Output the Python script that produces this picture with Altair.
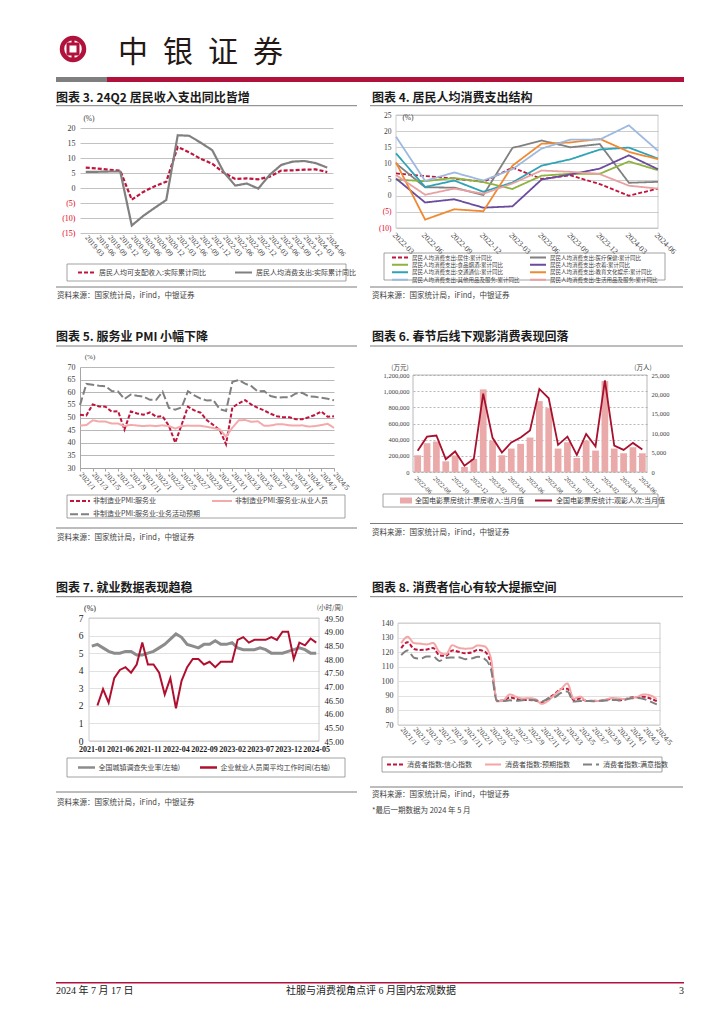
import altair as alt
import pandas as pd

NUM = "Liberation Serif, Noto Sans CJK SC"
CJK = "Noto Sans CJK SC"
INK = "#404040"
DARK = "#1A1A1A"
BRAND_RED = "#B0123B"
BRAND_GRAY = "#7F7F7F"
NEG_RED = "#E3001B"
RED = "#C0143C"
GRAY = "#808080"

# ---------------- Chart 3 data ----------------
q3 = ["2019-03", "2019-06", "2019-09", "2019-12", "2020-03", "2020-06", "2020-09", "2020-12",
      "2021-03", "2021-06", "2021-09", "2021-12", "2022-03", "2022-06", "2022-09", "2022-12",
      "2023-03", "2023-06", "2023-09", "2023-12", "2024-03", "2024-06"]
income3 = [6.8, 6.5, 6.1, 5.8, -3.9, -1.3, 0.6, 2.1, 13.7, 11.9, 9.7, 8.1, 5.1, 3.0, 3.2, 2.9,
           3.8, 5.8, 5.9, 6.1, 6.2, 5.3]
spend3 = [5.4, 5.4, 5.5, 5.5, -12.5, -9.3, -6.6, -4.0, 17.6, 17.4, 15.1, 12.6, 5.3, 0.8, 1.5, -0.2,
          4.4, 7.7, 8.8, 9.0, 8.3, 6.8]
series3 = ["居民人均可支配收入:实际累计同比", "居民人均消费支出:实际累计同比"]

# ---------------- Chart 4 data ----------------
q4 = ["2022-03", "2022-06", "2022-09", "2022-12", "2023-03", "2023-06", "2023-09", "2023-12",
      "2024-03", "2024-06"]
series4 = ["居民人均消费支出:居住:累计同比", "居民人均消费支出:医疗保健:累计同比",
           "居民人均消费支出:食品烟酒:累计同比", "居民人均消费支出:衣着:累计同比",
           "居民人均消费支出:交通通信:累计同比", "居民人均消费支出:教育文化娱乐:累计同比",
           "居民人均消费支出:其他用品及服务:累计同比", "居民人均消费支出:生活用品及服务:累计同比"]
housing4 = [6.9, 6.1, 5.3, 4.3, 8.7, 5.2, 6.3, 3.6, 0.0, 2.2]
medical4 = [10.0, 2.6, 2.5, 0.2, 14.8, 17.1, 15.0, 16.0, 4.0, 4.3]
food4 = [5.0, 4.5, 5.5, 4.2, 2.1, 6.2, 6.8, 6.8, 10.6, 7.9]
clothing4 = [5.3, -2.1, -1.1, -3.7, -3.3, 5.0, 6.6, 8.4, 12.5, 8.2]
transport4 = [13.1, 2.7, 4.7, 1.2, 4.1, 9.3, 11.3, 14.3, 14.9, 11.5]
education4 = [10.3, -7.4, -4.2, -4.8, 9.3, 16.1, 16.5, 17.6, 13.6, 11.3]
other4 = [18.3, 4.6, 7.2, 4.7, 8.2, 14.6, 17.4, 17.4, 21.8, 13.9]
household4 = [6.4, 0.3, 2.2, 0.6, 3.8, 7.8, 7.4, 6.7, 3.1, 2.2]
colors4 = [RED, GRAY, "#8DB43E", "#6B4B9E", "#2FA3B6", "#F08A32", "#9DB9E0", "#E8A0A0"]

# ---------------- Chart 5 data ----------------
m5 = [f"{y}/{m}" for y in (2021, 2022, 2023, 2024) for m in range(1, 13)][:41]
service5 = [51.1, 50.8, 55.2, 54.4, 54.3, 52.3, 52.5, 45.2, 52.4, 51.6, 51.1, 52.0,
            50.3, 50.5, 46.7, 40.0, 47.1, 54.3, 52.8, 51.9, 48.9, 47.0, 45.1, 39.4,
            54.0, 55.6, 56.9, 55.1, 53.8, 52.8, 51.5, 50.5, 50.1, 50.1, 49.3, 49.3,
            50.1, 51.0, 52.4, 50.3, 50.5]
employ5 = [46.8, 47.0, 48.9, 48.4, 48.4, 47.6, 47.6, 46.6, 47.1, 46.8, 46.6, 46.8,
           46.6, 46.9, 46.6, 45.6, 46.6, 46.8, 46.7, 46.7, 46.3, 45.8, 45.3, 42.4,
           46.0, 48.9, 49.0, 48.3, 48.5, 46.7, 46.8, 47.3, 47.3, 46.9, 46.8, 46.9,
           46.4, 46.6, 47.0, 47.5, 45.9]
expect5 = [54.9, 63.3, 63.0, 62.6, 62.4, 60.5, 60.3, 57.3, 59.1, 58.6, 58.3, 57.0,
           57.0, 60.2, 53.8, 53.1, 54.0, 60.4, 58.8, 57.5, 56.7, 56.9, 53.3, 52.6,
           64.1, 64.8, 63.4, 62.4, 60.3, 60.5, 58.5, 57.9, 58.0, 58.0, 59.5, 59.8,
           58.4, 58.2, 57.8, 57.4, 56.8]
series5 = ["非制造业PMI:服务业", "非制造业PMI:服务业:从业人员", "非制造业PMI:服务业:业务活动预期"]

# ---------------- Chart 6 data ----------------
m6 = [f"{y}-{m:02d}" for y in (2022, 2023, 2024) for m in range(1, 13)][5:30]
boxoffice6 = [207000, 356000, 377000, 132000, 205000, 62000, 161000, 1022000, 389000, 207000,
              290000, 348000, 426000, 877000, 790000, 290000, 368000, 174000, 388000, 265000,
              1125000, 290000, 232000, 306000, 232000]
viewers6 = [5500, 9100, 9400, 3300, 5300, 1600, 3400, 20200, 8800, 5000, 7600, 8900, 10700,
            21400, 19000, 7000, 9100, 4400, 9800, 6600, 23600, 6800, 5700, 7500, 5800]
bar_series6 = "全国电影票房统计:票房收入:当月值"
line_series6 = "全国电影票房统计:观影人次:当月值"

# ---------------- Chart 7 data ----------------
m7 = [f"{y}-{m:02d}" for y in (2021, 2022, 2023, 2024) for m in range(1, 13)][:41]
unemp7 = [5.4, 5.5, 5.3, 5.1, 5.0, 5.0, 5.1, 5.1, 4.9, 4.9, 5.0, 5.1,
          5.3, 5.5, 5.8, 6.1, 5.9, 5.5, 5.4, 5.3, 5.5, 5.5, 5.7, 5.5,
          5.5, 5.6, 5.3, 5.2, 5.2, 5.2, 5.3, 5.2, 5.0, 5.0, 5.0, 5.1,
          5.2, 5.3, 5.2, 5.0, 5.0]
hours7 = [None, 46.3, 46.9, 46.4, 47.3, 47.6, 47.7, 47.5, 47.8, 48.6, 47.8, 47.8,
          47.5, 46.7, 47.3, 46.2, 47.2, 47.7, 48.0, 48.0, 47.8, 47.9, 47.7, 47.9,
          47.9, 47.9, 48.7, 48.8, 48.6, 48.7, 48.7, 48.7, 48.8, 48.7, 49.0, 49.0,
          48.0, 48.6, 48.5, 48.75, 48.6]
series7 = ["全国城镇调查失业率(左轴)", "企业就业人员周平均工作时间(右轴)"]

# ---------------- Chart 8 data ----------------
m8 = list(m5)
conf8 = [122.8, 126.8, 122.2, 121.5, 121.8, 122.8, 117.8, 117.5, 121.2, 120.2, 119.3, 119.8,
         121.5, 120.5, 113.2, 86.7, 86.8, 88.9, 87.9, 87.1, 87.2, 86.8, 85.5, 88.3,
         91.2, 94.7, 94.9, 87.1, 88.2, 86.5, 86.6, 86.5, 87.2, 87.9, 87.0, 87.6,
         88.9, 89.1, 89.4, 88.2, 86.4]
expect8 = [126.1, 130.5, 126.2, 125.8, 125.3, 126.3, 120.0, 118.5, 124.7, 123.0, 122.4, 122.6,
           124.6, 124.0, 116.5, 86.2, 87.0, 91.0, 89.3, 88.2, 88.4, 87.7, 84.5, 86.7,
           90.7, 94.5, 98.5, 88.0, 89.5, 86.5, 86.7, 86.5, 87.5, 88.5, 88.2, 87.8,
           88.4, 89.5, 91.0, 90.3, 87.7]
satisf8 = [118.0, 121.2, 116.2, 115.5, 117.0, 117.0, 114.0, 116.0, 116.3, 116.5, 115.2, 115.6,
           116.8, 115.6, 109.0, 86.5, 86.5, 86.9, 86.7, 87.0, 87.3, 87.0, 86.2, 88.0,
           89.0, 92.0, 93.0, 86.1, 86.5, 86.5, 86.3, 86.6, 86.8, 87.2, 87.0, 87.4,
           88.3, 88.5, 87.8, 86.0, 84.2]
series8 = ["消费者指数:信心指数", "消费者指数:预期指数", "消费者指数:满意指数"]

SOURCE = "资料来源：国家统计局，iFind，中银证券"

# view origins of the six panels (page pixels)
O3, O4 = (80, 115), (396, 115)
O5, O6 = (80, 367), (396, 367)
O7, O8 = (80, 618), (396, 618)

# ---------------- helpers ----------------
ONE = pd.DataFrame({"d": [0]})


def label(o, s, px, py, size=7.5, font=CJK, color=INK, weight="normal", align="left", baseline="middle"):
    return alt.Chart(pd.DataFrame({"t": [s]})).mark_text(
        fontSize=size, font=font, color=color, fontWeight=weight, align=align, baseline=baseline
    ).encode(text="t:N", x=alt.value(px - o[0]), y=alt.value(py - o[1]))


def hrule(o, px1, px2, py, color="#595959", width=0.8):
    return alt.Chart(ONE).mark_rule(color=color, strokeWidth=width).encode(
        x=alt.value(px1 - o[0]), x2=alt.value(px2 - o[0]), y=alt.value(py - o[1]))


def vrule(o, px, py1, py2, color, width):
    return alt.Chart(ONE).mark_rule(color=color, strokeWidth=width).encode(
        x=alt.value(px - o[0]), y=alt.value(py1 - o[1]), y2=alt.value(py2 - o[1]))


def box(o, px1, py1, px2, py2, color="#8C8C8C", width=0.8, opacity=1):
    return alt.Chart(ONE).mark_rect(fill="transparent", stroke=color, strokeWidth=width,
                                    opacity=opacity).encode(
        x=alt.value(px1 - o[0]), x2=alt.value(px2 - o[0]), y=alt.value(py1 - o[1]), y2=alt.value(py2 - o[1]))


def spacer(w, h):
    return alt.Chart(ONE).mark_point(opacity=0, size=1).encode(
        x=alt.value(0.5), y=alt.value(h / 2)).properties(width=w, height=h)


def legend(o, px, py, cols, colpad, sym_size, fsize=7, clip=9, rowpad=2, sym_type="stroke", sym_sw=2, offset=3):
    return alt.Legend(title=None, orient="none", legendX=px - o[0], legendY=py - o[1], direction="horizontal",
                      columns=cols, columnPadding=colpad, rowPadding=rowpad, symbolSize=sym_size,
                      symbolType=sym_type, symbolStrokeWidth=sym_sw, labelFont=CJK, labelFontSize=fsize,
                      labelColor=INK, clipHeight=clip, padding=0, labelOffset=offset)


def neg_y_axis(values, size=8, grid_color="#B3B3B3"):
    return alt.Axis(title=None, values=values, grid=True, gridColor=grid_color, gridWidth=0.8,
                    domain=False, ticks=False, labelFont=NUM, labelFontSize=size, labelPadding=5,
                    labelExpr="datum.value < 0 ? '(' + abs(datum.value) + ')' : datum.label",
                    labelColor={"condition": {"test": "datum.value < 0", "value": NEG_RED}, "value": INK})


def title(o, s, px, py):
    return label(o, s, px, py, size=12, weight="bold", color=DARK)


def long_df(cats, names, arrays):
    rows = []
    for n, arr in zip(names, arrays):
        for c, v in zip(cats, arr):
            rows.append({"cat": c, "series": n, "value": v})
    return pd.DataFrame(rows)


# ---------------- Panel 3 (+ page header) ----------------
df3 = long_df(q3, series3, [income3, spend3])
leg3 = legend(O3, 77, 268, 2, 28, 289)
lines3 = alt.Chart(df3).mark_line(strokeWidth=2.2).encode(
    x=alt.X("cat:N", sort=q3, scale=alt.Scale(type="point", padding=0.5),
            axis=alt.Axis(title=None, labelAngle=50, labelFont=NUM, labelFontSize=7.5, labelColor=INK,
                          ticks=False, domain=False, labelPadding=3, labelOverlap=False)),
    y=alt.Y("value:Q", scale=alt.Scale(domain=[-15, 20], range=[118, 13], nice=False, zero=False),
            axis=neg_y_axis(list(range(-15, 21, 5)))),
    color=alt.Color("series:N", scale=alt.Scale(domain=series3, range=[RED, GRAY]), legend=leg3),
    strokeDash=alt.StrokeDash("series:N", scale=alt.Scale(domain=series3, range=[[4, 2], [1, 0]]), legend=leg3),
)
p3 = alt.layer(
    box(O3, 8, 8, 9, 9, opacity=0),
    alt.Chart(ONE).mark_point(shape="circle", filled=False, size=484, strokeWidth=4.5, color=BRAND_RED,
                              opacity=1).encode(x=alt.value(73 - O3[0]), y=alt.value(49 - O3[1])),
    alt.Chart(ONE).mark_point(shape="square", filled=False, size=100, strokeWidth=3, color=BRAND_RED,
                              opacity=1).encode(x=alt.value(73 - O3[0]), y=alt.value(49 - O3[1])),
    vrule(O3, 73, 38, 44, BRAND_RED, 3),
    vrule(O3, 73, 54, 60, BRAND_RED, 3),
    label(O3, "中\u2002银\u2002证\u2002券", 118, 53, size=30, color="#231815"),
    hrule(O3, 56, 107, 79.5, BRAND_GRAY, 5),
    hrule(O3, 107, 684, 79.5, BRAND_RED, 5),
    lines3,
    label(O3, "(%)", 89, 119, size=7.5, font=NUM, align="center"),
    title(O3, "图表 3. 24Q2 居民收入支出同比皆增", 56, 98),
    hrule(O3, 56, 357, 105.7),
    box(O3, 67, 264, 346, 281),
    hrule(O3, 56, 357, 287),
    label(O3, SOURCE, 57, 296),
).properties(width=253, height=118)

# ---------------- Panel 4 ----------------
df4 = long_df(q4, series4, [housing4, medical4, food4, clothing4, transport4, education4, other4, household4])
leg4 = legend(O4, 391, 254.3, 2, 9, 256, fsize=5.5, clip=6, rowpad=0.5)
lines4 = alt.Chart(df4).mark_line(strokeWidth=1.8).encode(
    x=alt.X("cat:N", sort=q4, scale=alt.Scale(type="point", padding=0),
            axis=alt.Axis(title=None, labelAngle=45, labelFont=NUM, labelFontSize=8, labelColor=INK,
                          ticks=False, domain=False, labelPadding=3, labelOverlap=False)),
    y=alt.Y("value:Q", scale=alt.Scale(domain=[-10, 25], nice=False, zero=False),
            axis=neg_y_axis(list(range(-10, 26, 5)), size=7.5, grid_color="#BFBFBF")),
    color=alt.Color("series:N", scale=alt.Scale(domain=series4, range=colors4), legend=leg4),
    strokeDash=alt.StrokeDash("series:N", scale=alt.Scale(domain=series4, range=[[4, 2]] + [[1, 0]] * 7),
                              legend=leg4),
)
p4 = alt.layer(
    box(O4, 396, 115, 658, 228, "#BFBFBF"),
    lines4,
    label(O4, "(%)", 408, 118, size=7.5, font=NUM, align="center"),
    title(O4, "图表 4. 居民人均消费支出结构", 372, 98),
    hrule(O4, 370, 683, 105.7),
    box(O4, 384, 253, 665, 280),
    hrule(O4, 370, 683, 287),
    label(O4, SOURCE, 372, 296),
).properties(width=262, height=113)

# ---------------- Panel 5 ----------------
df5 = long_df(m5, series5, [service5, employ5, expect5])
leg5 = legend(O5, 69, 496.5, 2, 10, 400, rowpad=4.3, offset=2)
lines5 = alt.Chart(df5).mark_line(strokeWidth=2).encode(
    x=alt.X("cat:N", sort=m5, scale=alt.Scale(type="point", padding=0),
            axis=alt.Axis(title=None, values=m5[::2], labelAngle=50, labelFont=NUM, labelFontSize=7.5,
                          labelColor=INK, ticks=True, tickSize=3, tickColor="#A6A6A6", domain=True,
                          domainColor="#A6A6A6", labelPadding=2, labelOverlap=False)),
    y=alt.Y("value:Q", scale=alt.Scale(domain=[30, 70], nice=False, zero=False),
            axis=alt.Axis(title=None, values=list(range(30, 71, 5)), grid=True, gridColor="#A6A6A6",
                          gridWidth=0.8, domain=True, domainColor="#A6A6A6", ticks=False,
                          labelFont=NUM, labelFontSize=8, labelColor=INK, labelPadding=5)),
    color=alt.Color("series:N", scale=alt.Scale(domain=series5, range=[RED, "#F4AAAA", GRAY]), legend=leg5),
    strokeDash=alt.StrokeDash("series:N", scale=alt.Scale(domain=series5, range=[[4, 2], [1, 0], [8, 3]]),
                              legend=leg5),
)
p5 = alt.layer(
    lines5,
    label(O5, "(%)", 90, 357, size=7, font=NUM, align="center"),
    title(O5, "图表 5. 服务业 PMI 小幅下降", 56, 337),
    hrule(O5, 56, 357, 346),
    box(O5, 67, 495, 345, 518),
    hrule(O5, 56, 357, 528),
    label(O5, SOURCE, 57, 538),
).properties(width=254, height=101)

# ---------------- Panel 6 ----------------
df6 = pd.DataFrame({"month": m6, "box": boxoffice6, "people": viewers6,
                    "bs": [bar_series6] * len(m6), "ls": [line_series6] * len(m6)})
leg6a = legend(O6, 400, 496.5, 1, 0, 144, clip=8, sym_type="M-1,-0.5H1V0.5H-1Z", sym_sw=0)
leg6b = legend(O6, 534, 496.5, 1, 0, 289, clip=8)
xaxis6 = alt.Axis(title=None, values=m6[::2], labelAngle=45, labelFont=NUM, labelFontSize=6.5,
                  labelColor=INK, ticks=False, domain=False, labelPadding=3, labelOverlap=False)
bars6 = alt.Chart(df6).mark_bar().encode(
    x=alt.X("month:N", sort=m6, scale=alt.Scale(paddingInner=0.28, paddingOuter=0.14, range=[17, 251]),
            axis=xaxis6),
    y=alt.Y("box:Q", scale=alt.Scale(domain=[0, 1200000], range=[105, 8], nice=False),
            axis=alt.Axis(title=None, values=list(range(0, 1200001, 200000)), format=",d", grid=True,
                          gridDash=[2, 2], gridColor="#999999", gridWidth=0.7, domain=False, ticks=False,
                          labelFont=NUM, labelFontSize=6.5, labelColor=INK, labelPadding=4, offset=-17)),
    color=alt.Color("bs:N", scale=alt.Scale(domain=[bar_series6], range=["#EBAAAA"]), legend=leg6a),
)
line6 = alt.Chart(df6).mark_line(strokeWidth=1.8).encode(
    x=alt.X("month:N", sort=m6),
    y=alt.Y("people:Q", scale=alt.Scale(domain=[0, 25000], range=[105, 8], nice=False),
            axis=alt.Axis(title=None, orient="right", values=list(range(0, 25001, 5000)), format=",d",
                          grid=False, domain=False, ticks=False, labelFont=NUM, labelFontSize=6.5,
                          labelColor=INK, labelPadding=4)),
    stroke=alt.Stroke("ls:N", scale=alt.Scale(domain=[line_series6], range=["#A8102E"]), legend=leg6b),
)
p6 = alt.layer(
    box(O6, 413, 375, 647, 472, "#A6A6A6"),
    bars6,
    line6,
    label(O6, "(万元)", 400, 368, size=6.5, align="center"),
    label(O6, "(万人)", 643, 368, size=6.5, align="center"),
    title(O6, "图表 6. 春节后线下观影消费表现回落", 372, 337),
    hrule(O6, 370, 683, 346),
    box(O6, 383, 494, 658, 507),
    hrule(O6, 370, 683, 523.5),
    label(O6, SOURCE, 372, 533),
).resolve_scale(y="independent").properties(width=251, height=105)

# ---------------- Panel 7 (+ page footer) ----------------
df7a = pd.DataFrame({"month": m7, "value": unemp7, "series": [series7[0]] * len(m7)})
df7b = pd.DataFrame({"month": m7, "value": hours7, "series": [series7[1]] * len(m7)})
leg7 = legend(O7, 76.5, 763, 2, 18, 289, sym_sw=2.5, offset=2)
color7 = alt.Color("series:N", scale=alt.Scale(domain=series7, range=["#8C8C8C", "#B0102F"]), legend=leg7)
xaxis7 = alt.Axis(title=None, values=m7[::5], labelAngle=0, labelFont=NUM, labelFontSize=8,
                  labelFontWeight="bold", labelColor=DARK, ticks=False, domain=False, labelPadding=4,
                  labelOverlap=False)
gray7 = alt.Chart(df7a).mark_line(strokeWidth=3).encode(
    x=alt.X("month:N", sort=m7, scale=alt.Scale(type="point", padding=0.5, range=[9, 239]), axis=xaxis7),
    y=alt.Y("value:Q", scale=alt.Scale(domain=[0, 7], nice=False),
            axis=alt.Axis(title=None, values=list(range(0, 8)), grid=True, gridColor="#D9D9D9",
                          gridWidth=0.8, domain=False, ticks=False, labelFont=NUM, labelFontSize=9.5,
                          labelColor=DARK, labelPadding=6, offset=-9)),
    color=color7,
)
red7 = alt.Chart(df7b).mark_line(strokeWidth=2).encode(
    x=alt.X("month:N", sort=m7),
    y=alt.Y("value:Q", scale=alt.Scale(domain=[45, 49.5], nice=False, zero=False),
            axis=alt.Axis(title=None, orient="right", values=[45 + 0.5 * i for i in range(10)], format=".2f",
                          grid=False, domain=False, ticks=False, labelFont=NUM, labelFontSize=8.5,
                          labelColor=DARK, labelPadding=5)),
    color=color7,
)
p7 = alt.layer(
    box(O7, 89, 618, 319, 741, "#BFBFBF"),
    gray7,
    red7,
    label(O7, "(%)", 90, 609, size=8, font=NUM, align="center", color=DARK),
    label(O7, "(小时/周)", 330, 607.5, size=6.5, align="center"),
    title(O7, "图表 7. 就业数据表现趋稳", 56, 588),
    hrule(O7, 56, 357, 596.7),
    box(O7, 67, 758, 345, 777),
    hrule(O7, 56, 357, 792),
    label(O7, SOURCE, 57, 803),
    hrule(O7, 56, 684, 982.75, BRAND_RED, 1.5),
    label(O7, "2024 年 7 月 17 日", 56, 991, size=10, font=NUM, color=DARK),
    label(O7, "社服与消费视角点评 6 月国内宏观数据", 371, 991, size=10, font=NUM, color=DARK, align="center"),
    label(O7, "3", 684, 991, size=10, font=NUM, color=DARK, align="right"),
).resolve_scale(y="independent").properties(width=239, height=123)

# ---------------- Panel 8 ----------------
df8 = long_df(m8, series8, [conf8, expect8, satisf8])
leg8 = legend(O8, 386, 760, 3, 12, 256)
lines8 = alt.Chart(df8).mark_line(strokeWidth=2, interpolate="monotone").encode(
    x=alt.X("cat:N", sort=m8, scale=alt.Scale(type="point", padding=0.5, range=[2, 264]),
            axis=alt.Axis(title=None, values=m8[::2], labelAngle=50, labelFont=NUM, labelFontSize=7.5,
                          labelColor=INK, ticks=False, domain=False, labelPadding=3, labelOverlap=False)),
    y=alt.Y("value:Q", scale=alt.Scale(domain=[70, 140], range=[107, 5], nice=False, zero=False),
            axis=alt.Axis(title=None, values=list(range(70, 141, 10)), grid=True, gridColor="#D9D9D9",
                          gridWidth=0.8, domain=False, ticks=False,
                          labelFont=NUM, labelFontSize=8, labelColor=INK, labelPadding=5, offset=-2)),
    color=alt.Color("series:N", scale=alt.Scale(domain=series8, range=[RED, "#F4A6A6", GRAY]), legend=leg8),
    strokeDash=alt.StrokeDash("series:N", scale=alt.Scale(domain=series8, range=[[4, 2], [1, 0], [9, 4]]),
                              legend=leg8),
)
p8 = alt.layer(
    box(O8, 398, 623, 660, 725, "#BFBFBF"),
    lines8,
    title(O8, "图表 8. 消费者信心有较大提振空间", 372, 588),
    hrule(O8, 370, 683, 596.7),
    box(O8, 382, 757, 662, 772),
    hrule(O8, 370, 683, 787),
    label(O8, SOURCE, 372, 795),
    label(O8, "*最后一期数据为 2024 年 5 月", 372, 811),
).properties(width=264, height=107)

RES = dict(color="independent", strokeDash="independent", stroke="independent")

chart = alt.concat(
    p3, p4,
    spacer(1, 134), spacer(1, 134),
    p5, p6,
    spacer(1, 146), spacer(1, 146),
    p7, p8,
    columns=2, spacing={"row": 0, "column": 62}, bounds="flush", align="each",
).resolve_scale(**RES).resolve_legend(**RES) \
    .properties(padding=0, background="white") \
    .configure_view(stroke=None)

chart.save("out.html", embed_options={"renderer": "svg", "actions": False})
